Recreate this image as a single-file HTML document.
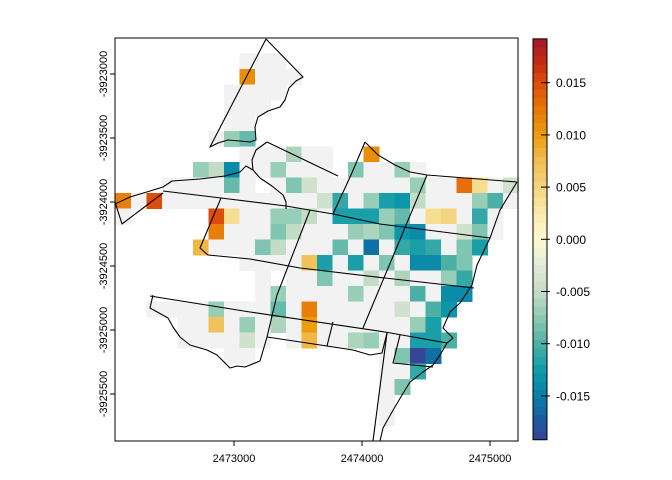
<!DOCTYPE html>
<html><head><meta charset="utf-8"><style>
html,body{margin:0;padding:0;background:#fff}
svg{display:block;font-family:"Liberation Sans",sans-serif}
</style></head><body>
<svg id="chart" width="672" height="480" viewBox="0 0 672 480" xmlns="http://www.w3.org/2000/svg">
<g id="cells"></g>
<g id="outlines" fill="none" stroke="#000" stroke-width="1.1" stroke-linejoin="round"></g>
<rect x="115" y="38" width="403" height="403" fill="none" stroke="#000" stroke-width="1"/>
<g id="xaxis"></g>
<g id="yaxis"></g>
<g id="legend"></g>
</svg>
<script>
// ---- data ----
const xTickValues = [2473000, 2474000, 2475000];
const yTickValues = [-3923000, -3923500, -3924000, -3924500, -3925000, -3925500];
const legendTicks = [0.015, 0.010, 0.005, 0.000, -0.005, -0.010, -0.015];
const legendTickLabels = ["0.015", "0.010", "0.005", "0.000", "-0.005", "-0.010", "-0.015"];
const colorRange = [-0.0192, 0.0192];
// sparse raster rows: "col:value" (g = no-change grey cell)
const rasterRows = [
 "",
 "8:g 9:g 10:g",
 "8:0.011 9:g 10:g 11:g",
 "7:g 8:g 9:g 10:g",
 "7:g 8:g 9:g",
 "7:g 8:g",
 "6:g 7:-0.007 8:-0.009",
 "8:g 9:g 10:g 11:-0.006 12:g 13:g 16:0.011",
 "5:-0.007 6:-0.005 7:-0.014 8:g 9:g 10:-0.007 11:g 12:g 13:g 15:-0.008 16:g 17:g 18:-0.007 19:g",
 "3:g 4:g 5:g 6:g 7:-0.009 8:g 10:g 11:-0.008 12:-0.004 13:g 14:g 15:g 16:g 17:g 18:g 19:-0.007 20:g 21:g 22:0.013 23:0.004 24:g 25:-0.004",
 "0:0.012 1:g 2:0.015 3:g 4:g 5:g 6:g 7:g 8:g 9:g 10:g 11:g 12:g 13:-0.004 14:-0.011 15:g 16:-0.007 17:-0.012 18:-0.013 19:-0.005 20:g 21:g 22:g 23:-0.007 24:-0.010 25:g",
 "0:g 6:0.015 7:0.004 8:g 9:g 10:-0.007 11:-0.007 12:-0.005 13:g 14:-0.012 15:-0.012 16:-0.012 17:-0.007 18:-0.009 19:g 20:0.004 21:0.005 22:g 23:-0.011 24:g",
 "6:0.012 7:g 8:g 9:g 10:-0.008 11:-0.005 12:g 13:g 14:g 15:-0.007 16:-0.006 17:-0.008 18:-0.013 19:-0.014 20:g 21:g 22:-0.004 23:-0.008 24:g",
 "5:0.008 6:g 7:g 8:g 9:-0.008 10:-0.005 11:g 12:g 13:g 14:-0.009 15:g 16:-0.016 17:g 18:-0.011 19:-0.012 20:-0.011 21:g 22:-0.008 23:-0.012",
 "8:g 9:g 10:g 11:g 12:0.007 13:-0.012 14:g 15:-0.012 16:g 17:-0.008 18:g 19:-0.014 20:-0.014 21:-0.010 22:-0.008",
 "9:g 11:g 12:g 13:-0.008 14:g 15:g 16:-0.005 17:g 18:-0.006 19:g 20:g 21:-0.007 22:-0.011",
 "9:g 10:-0.007 11:g 12:g 13:g 14:g 15:-0.007 16:g 17:g 18:g 19:-0.010 20:g 21:-0.014 22:-0.014",
 "2:g 3:g 4:g 5:g 6:-0.007 7:g 8:g 9:g 10:-0.009 11:g 12:0.012 13:g 14:g 15:g 16:g 17:g 18:-0.004 19:g 20:-0.010 21:-0.013",
 "4:g 5:g 6:0.007 7:g 8:-0.007 9:g 10:-0.006 11:g 12:0.010 13:g 14:g 15:g 16:g 17:g 18:g 19:-0.007 20:-0.012",
 "4:g 5:g 6:g 7:g 8:-0.004 9:g 11:g 12:0.008 13:g 14:g 15:-0.006 16:-0.007 17:g 18:g 19:-0.012 20:-0.012 21:-0.010",
 "7:g 8:g 17:g 18:-0.008 19:-0.019 20:-0.016",
 "17:g 18:g 19:-0.011",
 "17:g 18:-0.008",
 "17:g",
 "17:g",
 ""
];
// ---- layout ----
const NS = "http://www.w3.org/2000/svg";
const plot = {x0:115.7, y0:38, cell:15.5};
const xMin = 2472000 - (234 - 115.7) / 0.128 + 1000; // world x at left edge
function xScale(v){ return 234 + (v - 2473000) * 0.128; }
function yScale(v){ return 74 + (-3923000 - v) * 0.128; }
function legendY(v){ return 239.3 - v * (239.3 - 82.7) / 0.015; }
const stops = [
 [-0.0192,"#3a4298"],[-0.017,"#1560a0"],[-0.015,"#0a80a8"],[-0.0125,"#0d9ba9"],[-0.010,"#4db0a5"],
 [-0.0075,"#8ccab4"],[-0.005,"#c3dcc5"],[-0.0025,"#e3ead8"],[0,"#fdfbd2"],[0.0025,"#faebae"],
 [0.005,"#f5d47f"],[0.0075,"#f1bd55"],[0.010,"#ec9c0c"],[0.0125,"#e8770a"],[0.015,"#dd4d0a"],
 [0.017,"#c52a10"],[0.0192,"#a01a2c"]];
function hex(h){return [1,3,5].map(i=>parseInt(h.substr(i,2),16));}
function colorFor(v){
  if (v <= stops[0][0]) return stops[0][1];
  for (let i=1;i<stops.length;i++){
    if (v <= stops[i][0]){
      const a=stops[i-1], b=stops[i], t=(v-a[0])/(b[0]-a[0]);
      const ca=hex(a[1]), cb=hex(b[1]);
      return "rgb("+ca.map((c,k)=>Math.round(c+(cb[k]-c)*t)).join(",")+")";
    }
  }
  return stops[stops.length-1][1];
}
function mk(tag, attrs, parent){
  const e=document.createElementNS(NS,tag);
  for (const k in attrs) e.setAttribute(k, attrs[k]);
  parent.appendChild(e); return e;
}
// ---- raster ----
const gc = document.getElementById("cells");
rasterRows.forEach((row, r) => {
  if (!row) return;
  row.split(" ").forEach(tok => {
    const [cs, vs] = tok.split(":");
    const c = +cs;
    const fill = vs === "g" ? "#f2f2f2" : colorFor(parseFloat(vs));
    const e = mk("rect", {x: plot.x0 + c*plot.cell, y: plot.y0 + r*plot.cell, width: plot.cell+0.4, height: plot.cell+0.4, fill: fill, "shape-rendering":"crispEdges"}, gc);
    
    
  });
});
// ---- outlines ----
const outlines = [
 "266,39 303,77 296,81 289,88 285,100 280,107 268,111 258,117 255,127 256,140 250,142 240,141 228,140 218,143 210,147 266,39",
 "115,202 122,224 163,193",
 "115,204 130,197 150,191 163,187 172,181 200,179 225,176 240,172 246,166 253,170",
 "267,142 256,150 252,160 253,170 260,178 272,186 283,195 286,202 286,209",
 "267,142 338,176",
 "163,191 221,198 286,206 333,214 380,224 490,238",
 "365,142 351,175 333,214",
 "365,142 378,155 395,165 410,172 427,175 517,182",
 "517,182 500,210 490,238 477,265 472,285 460,303 450,312 443,328 453,338 447,343 440,355 433,365 423,372 410,382 402,395 392,412 383,428 380,441",
 "221,198 200,248 208,255 250,259 300,268 385,278 474,288",
 "427,175 363,328",
 "310,210 277,295 267,337 260,361",
 "150,296 250,312 385,332 447,343",
 "153,295 150,308 168,318 173,327 180,337 190,345 207,350 217,355 225,363 230,368 237,366 245,367 260,361",
 "267,337 327,346 353,350 370,355 382,353 387,333",
 "333,322 327,346",
 "387,333 373,441",
 "400,335 393,363 433,367"
];
const go = document.getElementById("outlines");
outlines.forEach(p => {
  const e = mk("polyline", {points: p}, go);
  
  
});
// ---- axes ----
const gx = document.getElementById("xaxis");
xTickValues.forEach(v => {
  const x = xScale(v);
  const t = mk("line", {x1:x, x2:x, y1:441, y2:446, stroke:"#000"}, gx);
  
  
  const l = mk("text", {x:x, y:462, "text-anchor":"middle", "font-size":"11"}, gx);
  
  
  l.textContent = String(v);
});
const gy = document.getElementById("yaxis");
yTickValues.forEach(v => {
  const y = yScale(v);
  const t = mk("line", {x1:110, x2:115, y1:y, y2:y, stroke:"#000"}, gy);
  
  
  const l = mk("text", {x:107, y:y, "text-anchor":"middle", "font-size":"11", transform:"rotate(-90 107 "+y+")"}, gy);
  
  
  l.textContent = String(v);
});
// ---- legend ----
const gl = document.getElementById("legend");
const nBands = 48;
for (let i=0;i<nBands;i++){
  const v1 = colorRange[0] + (colorRange[1]-colorRange[0])*i/nBands;
  const v2 = colorRange[0] + (colorRange[1]-colorRange[0])*(i+1)/nBands;
  const yTop = legendY(v2), yBot = legendY(v1);
  const e = mk("rect", {x:533, y:yTop, width:14, height:yBot-yTop+0.5, fill:colorFor((v1+v2)/2), "shape-rendering":"crispEdges"}, gl);
  
  
}
const fr = mk("rect", {x:533, y:legendY(colorRange[1]), width:14, height:legendY(colorRange[0])-legendY(colorRange[1]), fill:"none", stroke:"#000"}, gl);


legendTicks.forEach((v, i) => {
  const y = legendY(v);
  const t = mk("line", {x1:541, x2:550, y1:y, y2:y, stroke:"#000"}, gl);
  
  
  const l = mk("text", {x:556, y:y+4.5, "font-size":"12"}, gl);
  
  
  l.textContent = legendTickLabels[i];
});
</script>
</body></html>
